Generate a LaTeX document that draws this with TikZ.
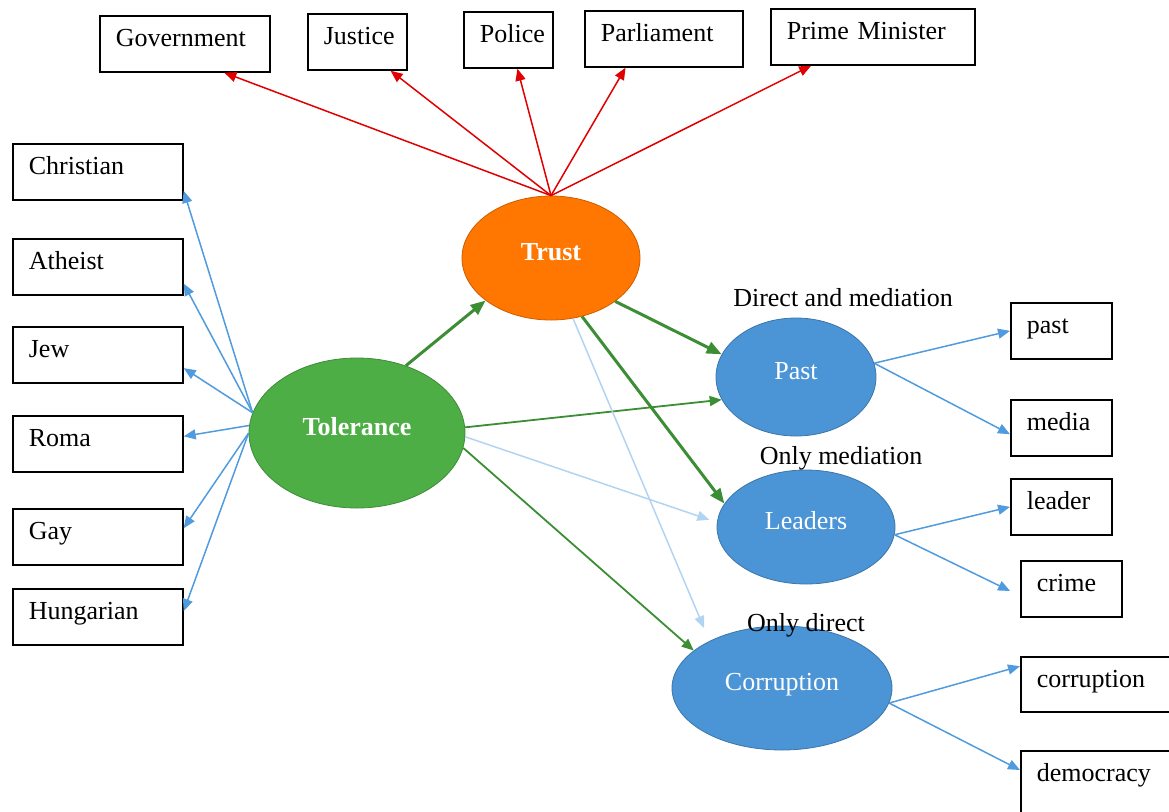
\documentclass[tikz,border=0pt]{standalone}
\usepackage{fontspec}
\setmainfont{Liberation Serif}
\usetikzlibrary{shapes.geometric}
\usetikzlibrary{calc}
\usetikzlibrary{arrows.meta}

\definecolor{trustorange}{RGB}{255,118,0}
\definecolor{tolgreen}{RGB}{78,174,70}
\definecolor{factblue}{RGB}{75,148,213}
\definecolor{arrred}{RGB}{224,0,0}
\definecolor{arrblue}{RGB}{80,155,222}
\definecolor{arrlight}{RGB}{178,212,242}
\definecolor{arrgreen}{RGB}{60,142,52}

\begin{document}
\begin{tikzpicture}[x=0.5pt,y=-0.5pt,
                font=\fontsize{13}{15}\selectfont,
                item/.style={draw,rectangle,anchor=north west,line width=0.85pt,
                        inner xsep=8pt,inner ysep=0pt,text width=#1,align=left,
                        text height=15.5pt,text depth=12.5pt},
                factor/.style={ellipse,draw=#1!80!black,fill=#1,text=white,
                        inner sep=0pt,text height=9pt,text depth=7pt},
                redarr/.style={draw=arrred,line width=0.75pt,-{Triangle[length=6pt,width=5pt]}},
                bluearr/.style={draw=arrblue,line width=0.75pt,-{Triangle[length=6pt,width=5pt]}},
                lightarr/.style={draw=arrlight,line width=0.75pt,-{Triangle[length=6pt,width=5pt]}},
                greenthin/.style={draw=arrgreen,line width=0.9pt,-{Triangle[length=6pt,width=5pt]}},
                greenthick/.style={draw=arrgreen,line width=1.5pt,-{Triangle[length=7.5pt,width=6pt]}}]
                \useasboundingbox (0,0) rectangle (1169,811);

                \node[item=69pt] (gov) at (99,15) {Government};
                \node[item=33.5pt] (jus) at (307,13) {Justice};
                \node[item=28.5pt] (pol) at (463,11) {Police};
                \node[item=63pt] (parl) at (584,10) {Parliament};
                \node[item=86pt] (pm) at (770,8) {Prime Minister};

                \node[item=69pt] (chr) at (12,143) {Christian};
                \node[item=69pt] (ath) at (12,238) {Atheist};
                \node[item=69pt] (jew) at (12,326) {Jew};
                \node[item=69pt] (roma) at (12,415) {Roma};
                \node[item=69pt] (gay) at (12,508) {Gay};
                \node[item=69pt] (hun) at (12,588) {Hungarian};

                \node[item=34.5pt] (pastb) at (1010,302) {past};
                \node[item=34.5pt] (mediab) at (1010,399) {media};
                \node[item=34.5pt] (leadb) at (1010,478) {leader};
                \node[item=34.5pt] (crimeb) at (1020,560) {crime};
                \node[item=64pt,text depth=12pt] (corrb) at (1020,656) {corruption};
                \node[item=64pt,text depth=17pt] (demob) at (1020,750) {democracy};

                \node[factor=trustorange,minimum width=89pt,minimum height=62pt] (trust) at (551,258) {\textbf{Trust}};
                \node[factor=tolgreen,minimum width=108pt,minimum height=75pt] (tol) at (357,433) {\textbf{Tolerance}};
                \node[factor=factblue,minimum width=80pt,minimum height=59pt] (past) at (796,377) {Past};
                \node[factor=factblue,minimum width=89pt,minimum height=57pt] (lead) at (806,527) {Leaders};
                \node[factor=factblue,minimum width=110pt,minimum height=62pt] (corr) at (782,688) {Corruption};

                \node (dirmed) at (843,298) {Direct and mediation};
                \node (onlymed) at (841,458) {Only mediation};
                \node (onlydir) at (806,625) {Only direct};

                \draw[redarr] (trust.north) -- ($(gov.south west)!.73!(gov.south east)$);
                \draw[redarr] (trust.north) -- ($(jus.south west)!.83!(jus.south east)$);
                \draw[redarr] (trust.north) -- ($(pol.south west)!.6!(pol.south east)$);
                \draw[redarr] (trust.north) -- ($(parl.south west)!.26!(parl.south east)$);
                \draw[redarr] (trust.north) -- ($(pm.south west)!.2!(pm.south east)$);

                \draw[bluearr] (tol.169) -- ($(chr.south east)!.17!(chr.north east)$);
                \draw[bluearr] (tol.169) -- ($(ath.south east)!.21!(ath.north east)$);
                \draw[bluearr] (tol.169) -- ($(jew.south east)!.27!(jew.north east)$);
                \draw[bluearr] (tol.176) -- ($(roma.south east)!.63!(roma.north east)$);
                \draw[bluearr] (tol.180) -- ($(gay.south east)!.65!(gay.north east)$);
                \draw[bluearr] (tol.180) -- ($(hun.south east)!.6!(hun.north east)$);

                \draw[greenthick] (tol.54) -- (trust.213);
                \draw[greenthick] (trust.-34) -- (past.163);
                \draw[greenthick] (trust.-62) -- (lead.164);
                \draw[greenthin] (tol.3) -- (past.197);
                \draw[lightarr,shorten >=4pt] (tol.-2) -- (lead.177);
                \draw[greenthin] (tol.-8) -- (corr.157);
                \draw[lightarr,shorten >=7pt] (trust.-70) -- (corr.147);

                \draw[bluearr] (past.10) -- (pastb.west);
                \draw[bluearr] (past.10) -- ($(mediab.north west)!.61!(mediab.south west)$);
                \draw[bluearr] (lead.-5) -- (leadb.west);
                \draw[bluearr,shorten >=5.5pt] (lead.-5) -- ($(crimeb.north west)!.62!(crimeb.south west)$);
                \draw[bluearr] (corr.-8) -- ($(corrb.north west)!.18!(corrb.south west)$);
                \draw[bluearr] (corr.-8) -- ($(demob.north west)!.3!(demob.south west)$);
            \end{tikzpicture}
\end{document}
